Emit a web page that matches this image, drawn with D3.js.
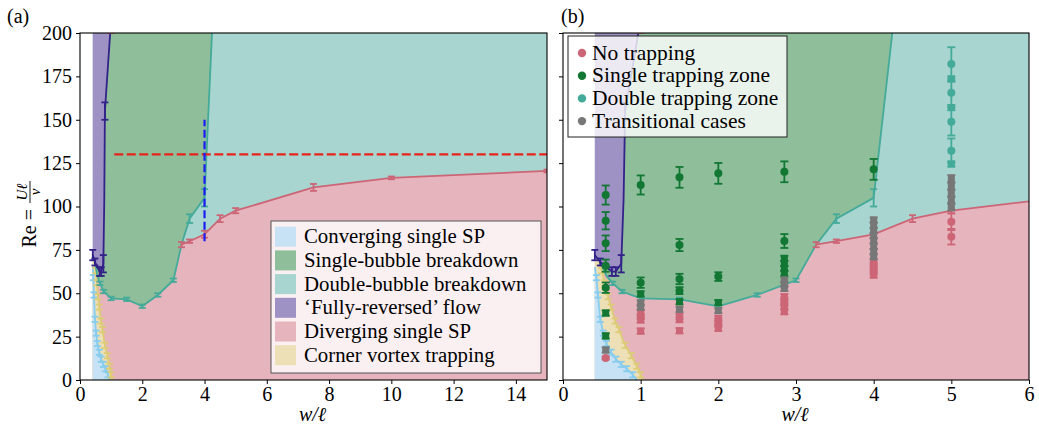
<!DOCTYPE html>
<html>
<head>
<meta charset="utf-8">
<script src="https://cdn.jsdelivr.net/npm/d3@7"></script>
<style>
  body { margin: 0; background: #fff; }
  svg { display: block; font-family: "Liberation Serif", "Times New Roman", serif; }
</style>
</head>
<body>
<svg id="chart" width="1039" height="432"></svg>
<script>
// tick labels
var wTicksA = [0, 2, 4, 6, 8, 10, 12, 14]
var wTicksB = [0, 1, 2, 3, 4, 5, 6]
var reTicks = [0, 25, 50, 75, 100, 125, 150, 175, 200]

var regimeNames = ['Converging single SP', 'Single-bubble breakdown', 'Double-bubble breakdown',
    '\u2018Fully-reversed\u2019 flow', 'Diverging single SP', 'Corner vortex trapping']
var trappingNames = ['No trapping', 'Single trapping zone', 'Double trapping zone', 'Transitional cases']

// regime boundaries: [w/l, Re, error]  (error 0 -> no marker)
var wMin = 0.41, wEnd = 15
var convergingEdge = [[0.41, 65, 0], [0.43, 59, 1.5], [0.45, 49, 1.5], [0.48, 35, 1.5], [0.52, 27, 1.5],
    [0.56, 21, 1.5], [0.62, 16, 1.5], [0.68, 12, 1.5], [0.75, 9, 1.5], [0.82, 6.5, 1.5], [0.9, 3, 1.5], [0.95, 0, 0]]
var cornerEdge = [[0.46, 68, 0], [0.5, 63, 1.5], [0.54, 56, 1.5], [0.58, 48, 1.5], [0.62, 42, 1.5], [0.67, 34, 1.5],
    [0.72, 29, 1.5], [0.8, 20, 1.5], [0.88, 14, 1.5], [0.95, 8, 1.5], [1.0, 3, 1.5], [1.02, 0, 0]]
var reversedEdge = [[0.41, 72, 3], [0.48, 68, 2], [0.63, 62.5, 2.5], [0.68, 62.5, 2.5], [0.75, 67, 5],
    [0.78, 104, 0], [0.8, 155, 5], [0.97, 200, 0]]
var bubbleEdge = [[0.48, 68, 0], [0.56, 60, 0], [0.64, 55.7, 1], [0.76, 51, 1], [1.0, 47, 1], [1.5, 46.5, 1],
    [2.0, 42.5, 1], [2.5, 49, 1], [3.0, 57.5, 1], [3.26, 78, 0], [3.52, 93, 2.5], [4.0, 105, 5], [4.24, 200, 0]]
var divergingEdge = [[3.26, 78, 1.5], [3.52, 80, 1], [4.0, 84, 2], [4.5, 93, 2], [5.0, 97.6, 1.5],
    [7.5, 111, 2], [10, 116.5, 0.8], [15, 120.5, 0.8]]
var divergingTop = [[1.0, 203, 3]]

// sweeps shown in (a)
var sweepRe = [[1.1, 130], [15, 130]]
var sweepW = [[4, 80], [4, 150]]

// simulations in (b): [w/l, Re, error]
var noTrapCircles = [[0.55, 12.7, 0.8], [5.0, 91.2, 4.8], [5.0, 82.6, 4.5]]
var noTrapSquares = [[1.0, 38.6, 1.5], [1.0, 36.5, 1.5], [1.0, 34.6, 1.5], [1.0, 28.2, 1.5],
    [1.5, 36.5, 1.5], [1.5, 34.8, 1.5], [1.5, 28.4, 1.5],
    [2.0, 35.5, 1.5], [2.0, 33.8, 1.5], [2.0, 32.3, 1.5], [2.0, 29.8, 1.5],
    [2.85, 48, 1.5], [2.85, 46, 1.5], [2.85, 44.2, 1.5], [2.85, 42, 1.5], [2.85, 39.4, 1.5],
    [4.0, 68.2, 1.5], [4.0, 66.3, 1.5], [4.0, 64.4, 1.5], [4.0, 62.4, 1.5], [4.0, 60.5, 1.5]]
var singleCircles = [[0.55, 106.6, 5.5], [0.55, 91.8, 5], [0.55, 78.8, 4.5], [0.55, 65.9, 3.5], [0.55, 53.2, 3],
    [1.0, 112.4, 5.5], [1.0, 56.1, 3], [1.5, 116.8, 6], [1.5, 77.8, 3.5], [1.5, 58.2, 3], [1.5, 51.5, 2],
    [2.0, 119.1, 6], [2.0, 59.6, 2.5], [2.85, 120, 6], [2.85, 80.1, 4], [4.0, 121.4, 6]]
var singleSquares = [[0.55, 38.6, 1.5], [0.55, 25.4, 1.5], [1.0, 49.6, 1.5], [1.5, 45.1, 1.5], [2.0, 44.6, 1.5],
    [2.85, 70.1, 1.5], [2.85, 67.2, 1.5], [2.85, 64.3, 1.5], [2.85, 61.5, 1.5]]
var doubleCircles = [[5.0, 182.1, 9.7], [5.0, 165.6, 8], [5.0, 148.9, 8], [5.0, 132.2, 7]]
var doubleSquares = [[5.0, 173.5, 1.5], [5.0, 157, 1.5], [5.0, 124.5, 1.5]]
var transSquares = [[0.55, 17.3, 1.5], [1.0, 44.4, 1.5], [1.0, 42, 1.5], [1.5, 40.7, 1.5], [2.0, 40, 1.5],
    [2.85, 57.6, 1.5], [2.85, 55.2, 1.5], [2.85, 52.8, 1.5],
    [4.0, 92.2, 1.5], [4.0, 89.2, 1.5], [4.0, 86.2, 1.5], [4.0, 83.2, 1.5], [4.0, 80.2, 1.5], [4.0, 77.1, 1.5],
    [4.0, 74, 1.5], [4.0, 71, 1.5],
    [5.0, 115.9, 2.2], [5.0, 111.8, 2.2], [5.0, 107.6, 2.2], [5.0, 103.7, 2.2], [5.0, 99.9, 2.2]]

// colours (Tol muted)
var lineCol = { conv: '#88ccee', corner: '#ddcc77', rev: '#332288', bubble: '#44aa99', div: '#cc6677' }
var fillCol = ['#c6e2f4', '#8fbe9b', '#a8d5cf', '#9e91c4', '#e6b4bc', '#ede0b6']
var dotCol = ['#cc6677', '#117733', '#44aa99', '#777777']

var svg = d3.select('#chart')
var plotTop = 33, plotBottom = 380

var panels = [
    { id: 'a', left: 80, right: 547, wMax: 15, ticks: wTicksA, labels: true },
    { id: 'b', left: 563, right: 1029, wMax: 6, ticks: wTicksB, labels: false }
]

panels.forEach(drawPanel)

function drawPanel(p) {
    var x = d3.scaleLinear().domain([0, p.wMax]).range([p.left, p.right])
    var y = d3.scaleLinear().domain([0, 200]).range([plotBottom, plotTop])
    var line = d3.line().x(d => x(d[0])).y(d => y(d[1]))

    svg.append('clipPath').attr('id', 'clip-' + p.id)
        .append('rect')
        .attr('x', p.left).attr('y', plotTop)
        .attr('width', p.right - p.left).attr('height', plotBottom - plotTop)

    var g = svg.append('g').attr('clip-path', 'url(#clip-' + p.id + ')')

    // regime areas
    var iSplit = bubbleEdge.findIndex(d => d[0] == divergingEdge[0][0])
    var areas = [
        { col: fillCol[2], pts: [[wMin, 0], [wMin, 200], [wEnd, 200], [wEnd, 0]] },
        { col: fillCol[4], pts: [[wMin, 0], [wMin, 68]].concat(bubbleEdge.slice(0, iSplit + 1), divergingEdge.slice(1), [[wEnd, 0]]) },
        { col: fillCol[1], pts: bubbleEdge.concat(reversedEdge.slice(1).reverse()) },
        { col: fillCol[3], pts: [[wMin, 200]].concat(reversedEdge) },
        { col: fillCol[5], pts: [[wMin, 0], [wMin, 70]].concat(cornerEdge) },
        { col: fillCol[0], pts: [[wMin, 0]].concat(convergingEdge) }
    ]
    g.selectAll('path.area').data(areas).join('path')
        .attr('class', 'area')
        .attr('d', d => line(d.pts) + 'Z')
        .attr('fill', d => d.col)

    // boundaries
    var edges = [
        { col: lineCol.conv, pts: convergingEdge },
        { col: lineCol.corner, pts: cornerEdge },
        { col: lineCol.bubble, pts: bubbleEdge },
        { col: lineCol.div, pts: divergingEdge },
        { col: lineCol.rev, pts: reversedEdge }
    ]
    edges.forEach(function (e) {
        g.append('path').attr('d', line(e.pts))
            .attr('fill', 'none').attr('stroke', e.col).attr('stroke-width', 1.8)
        errorBars(g, e.pts.filter(d => d[2] > 0), x, y, e.col, 7)
    })
    errorBars(g, divergingTop, x, y, lineCol.div, 8)

    if (p.id == 'a') {
        g.append('path').attr('d', line(sweepRe))
            .attr('fill', 'none').attr('stroke', '#e8231c').attr('stroke-width', 2.2)
            .attr('stroke-dasharray', '9,3.5')
        g.append('path').attr('d', line(sweepW))
            .attr('fill', 'none').attr('stroke', '#1c1cf5').attr('stroke-width', 2.2)
            .attr('stroke-dasharray', '8,3.5')
    } else {
        var groups = [
            [noTrapSquares, noTrapCircles, dotCol[0]],
            [singleSquares, singleCircles, dotCol[1]],
            [doubleSquares, doubleCircles, dotCol[2]],
            [transSquares, [], dotCol[3]]
        ]
        groups.forEach(function (grp) {
            errorBars(g, grp[0], x, y, grp[2], 8)
            g.selectAll(null).data(grp[0]).join('rect')
                .attr('x', d => x(d[0]) - 3.5).attr('y', d => y(d[1]) - 3.5)
                .attr('width', 7).attr('height', 7).attr('fill', grp[2])
            errorBars(g, grp[1], x, y, grp[2], 8)
            g.selectAll(null).data(grp[1]).join('circle')
                .attr('cx', d => x(d[0])).attr('cy', d => y(d[1])).attr('r', 4).attr('fill', grp[2])
        })
    }

    // axes
    var xAxis = d3.axisBottom(x).tickValues(p.ticks).tickFormat(d3.format('d'))
        .tickSize(4).tickPadding(3).tickSizeOuter(0)
    var yAxis = d3.axisLeft(y).tickValues(reTicks).tickFormat(d3.format('d'))
        .tickSize(4).tickPadding(4).tickSizeOuter(0)
    if (!p.labels) yAxis.tickFormat('')

    var ax = svg.append('g').attr('transform', 'translate(0,' + plotBottom + ')').call(xAxis)
    var ay = svg.append('g').attr('transform', 'translate(' + p.left + ',0)').call(yAxis)
    ;[ax, ay].forEach(function (a) {
        a.select('.domain').remove()
        a.selectAll('text').attr('font-family', '"Liberation Serif", serif').attr('font-size', 20).attr('fill', '#000')
        a.selectAll('line').attr('stroke', '#000')
    })

    svg.append('rect')
        .attr('x', p.left).attr('y', plotTop)
        .attr('width', p.right - p.left).attr('height', plotBottom - plotTop)
        .attr('fill', 'none').attr('stroke', '#000').attr('stroke-width', 1.1)

    svg.append('text')
        .attr('x', (p.left + p.right) / 2 - 1).attr('y', 421)
        .attr('text-anchor', 'middle').attr('font-size', 20).attr('font-style', 'italic')
        .text('w/\u2113')

    svg.append('text')
        .attr('x', p.id == 'a' ? 7 : 561).attr('y', 23)
        .attr('font-size', 20)
        .text('(' + p.id + ')')

    if (p.id == 'a') regimeLegend()
    else trappingLegend()
}

function errorBars(g, pts, x, y, col, capW) {
    var eb = g.append('g').attr('stroke', col).attr('stroke-width', 1.8)
    pts.forEach(function (d) {
        var cx = x(d[0]), y0 = y(d[1] - d[2]), y1 = y(d[1] + d[2])
        eb.append('line').attr('x1', cx).attr('x2', cx).attr('y1', y0).attr('y2', y1)
        eb.append('line').attr('x1', cx - capW / 2).attr('x2', cx + capW / 2).attr('y1', y0).attr('y2', y0)
        eb.append('line').attr('x1', cx - capW / 2).attr('x2', cx + capW / 2).attr('y1', y1).attr('y2', y1)
    })
}

function regimeLegend() {
    var lg = svg.append('g').attr('transform', 'translate(271,221)')
    lg.append('rect').attr('width', 270).attr('height', 152)
        .attr('fill', '#fff').attr('fill-opacity', 0.8).attr('stroke', '#555').attr('stroke-width', 1)
    var rows = lg.selectAll('g').data(regimeNames).join('g')
        .attr('transform', (d, i) => 'translate(0,' + (15.7 + i * 23.7) + ')')
    rows.append('rect').attr('x', 4).attr('y', -10).attr('width', 21).attr('height', 20)
        .attr('fill', (d, i) => fillCol[i])
    rows.append('text').attr('x', 33).attr('y', 6.5).attr('font-size', 20.8).text(d => d)
}

function trappingLegend() {
    var lg = svg.append('g').attr('transform', 'translate(568,36)')
    lg.append('rect').attr('width', 219).attr('height', 101)
        .attr('fill', '#fff').attr('fill-opacity', 0.8).attr('stroke', '#222').attr('stroke-width', 1)
    var rows = lg.selectAll('g').data(trappingNames).join('g')
        .attr('transform', (d, i) => 'translate(0,' + (17 + i * 22.7) + ')')
    rows.append('circle').attr('cx', 14).attr('cy', 0).attr('r', 4.2).attr('fill', (d, i) => dotCol[i])
    rows.append('text').attr('x', 24).attr('y', 6.5).attr('font-size', 21.5).text(d => d)
}

// y label  Re = Ul/nu
var yl = svg.append('g').attr('transform', 'translate(30,206) rotate(-90)')
yl.append('text').attr('x', -3).attr('y', 6).attr('text-anchor', 'end').attr('font-size', 20).text('Re =')
yl.append('text').attr('x', 14).attr('y', -3).attr('text-anchor', 'middle').attr('font-size', 15)
    .attr('font-style', 'italic').text('U\u2113')
yl.append('text').attr('x', 14).attr('y', 10).attr('text-anchor', 'middle').attr('font-size', 15)
    .attr('font-style', 'italic').text('\u03bd')
yl.append('line').attr('x1', 3).attr('x2', 25).attr('y1', 0).attr('y2', 0).attr('stroke', '#000').attr('stroke-width', 0.9)
</script>
</body>
</html>
